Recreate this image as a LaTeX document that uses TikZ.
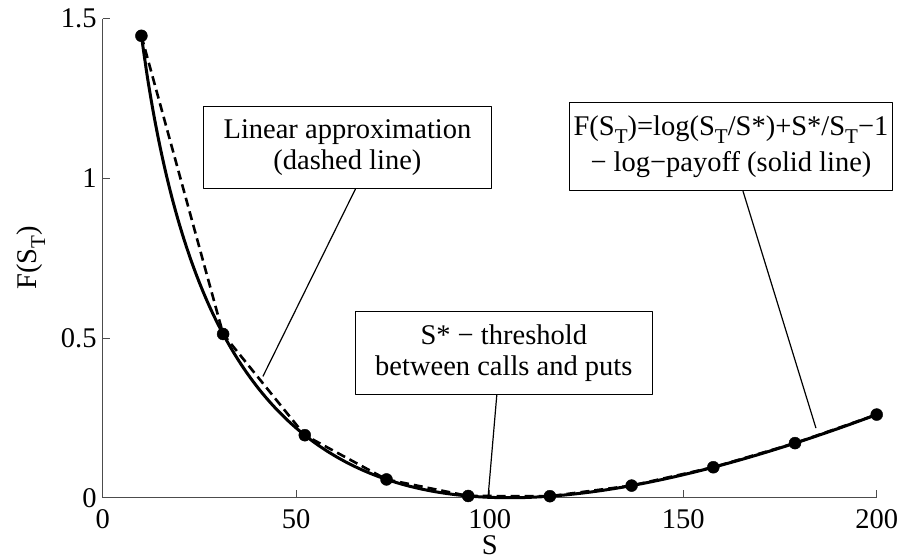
\documentclass[tikz,border=0pt]{standalone}
\usepackage{fontspec}
\setmainfont{Liberation Serif}
\usetikzlibrary{positioning}
\newcommand{\tsub}[1]{\raisebox{-0.3em}{\fontsize{21}{21}\selectfont #1}}
\begin{document}
\begin{tikzpicture}[x=1pt,y=-1pt,line join=round,
	every node/.style={font=\fontsize{28.5}{31}\selectfont},
	note/.style={draw,line width=1.2pt,align=center,inner ysep=13pt},
	axis/.style={black!70,line width=0.9pt}]
	\def\k{105} % S* of the plotted curve
	\def\sx{3.87} % pt per unit of S
	\def\fy{319.3} % pt per unit of F
	\useasboundingbox (0,0) rectangle (902,559);
	\begin{scope}[shift={(102.7,497.7)},x=\sx pt,y=\fy pt]
	\draw[axis] (0,1.5) -- (0,0) -- (200,0);
	\foreach \s in {0,50,...,200}{
	\draw[axis] (\s,0) -- ++(0,8pt);
	\node[anchor=base,inner sep=0] at (\s,0) [yshift=-31pt] {\s};
	}
	\foreach \f in {0,0.5,1,1.5}{
	\draw[axis] (0,\f) -- ++(7pt,0);
	\node[anchor=east,inner sep=0] at (0,\f) [xshift=-6pt] {\f};
	}
	% log-payoff and its linear approximation
	\draw[line width=3pt]
	plot[domain=10:200,samples=120,smooth] (\x,{\x/\k-1+ln(\k/\x)});
	\draw[line width=2.6pt,dash pattern=on 9pt off 5pt]
	plot[domain=10:200,samples=10] (\x,{\x/\k-1+ln(\k/\x)});
	\fill plot[only marks,mark=*,mark size=6pt,domain=10:200,samples=10] (\x,{\x/\k-1+ln(\k/\x)});
	\coordinate (linend) at (41.4,0.38);
	\coordinate (logend) at (184.3,0.218);
	\coordinate (thrend) at (99.6,0.005);
	\end{scope}
	\node[anchor=base,inner sep=0] (xlab) at (489.7,554) {S};
	\node[rotate=90] (ylab) at (31,258) {F(S\tsub{T})};
	\node[note,inner xsep=20pt,anchor=south west] (lin) at (203,189)
	{Linear approximation\\(dashed line)};
	\node[note,inner xsep=4pt,anchor=north west] (logp) at (569,102)
	{F(S\tsub{T})=log(S\tsub{T}/S*)+S*/S\tsub{T}−1\\[5pt]− log−payoff (solid line)};
	\node[note,inner xsep=20pt,anchor=north east] (thr) at (653,311)
	{S* − threshold\\between calls and puts};
	\begin{scope}[line width=1.2pt]
	\draw ([xshift=8pt]lin.south) -- (linend);
	\draw ([xshift=12pt]logp.south) -- (logend);
	\draw ([xshift=-7pt]thr.south) -- (thrend);
	\end{scope}
\end{tikzpicture}
\end{document}
